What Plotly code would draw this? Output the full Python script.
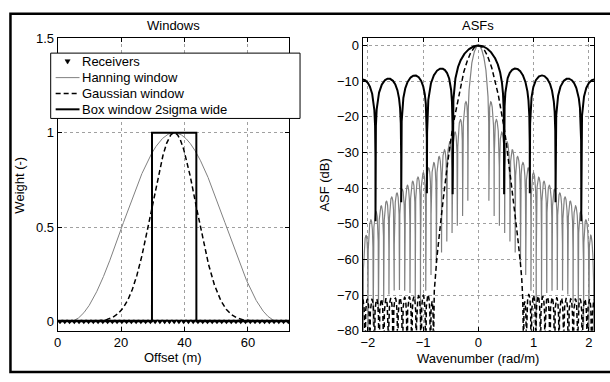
import numpy as np
import plotly.graph_objects as go

# ---------------- data / parameters ----------------
receiver_spacing_m = 1.5
receiver_offsets_m = 0.75 + receiver_spacing_m * np.arange(49)   # 0.75 ... 72.75 m
window_center_m = 36.75
gauss_sigma_m = 7.0
hanning_length_m = 66.0                          # zeros at 3.75 m and 69.75 m
box_halfwidth_m = gauss_sigma_m                  # box window 2 sigma wide

legend_names = ["Receivers", "Hanning window", "Gaussian window", "Box window 2sigma wide"]
left_xticks = [0, 20, 40, 60]
left_yticks = [0, 0.5, 1, 1.5]
left_yticklabels = ["0", "0.5", "1", "1.5"]
right_xticks = [-2, -1, 0, 1, 2]
right_yticks = [0, -10, -20, -30, -40, -50, -60, -70, -80]
k_nyquist = np.pi / receiver_spacing_m
n_wavenumbers = 30005

W, H = 610, 382
FONT = "Liberation Sans, Arial, Helvetica, sans-serif"
GRAY = "rgb(128,128,128)"
DASH = "5px,3px"


def hanning(x):
    u = (x - window_center_m) / hanning_length_m
    return np.where(np.abs(u) < 0.5, np.cos(np.pi * u) ** 2, 0.0)


def gaussian(x):
    return np.exp(-((x - window_center_m) ** 2) / (2 * gauss_sigma_m ** 2))


def box(x):
    return np.where(np.abs(x - window_center_m) <= box_halfwidth_m + 1e-9, 1.0, 0.0)


# fine offset grid for drawing the windows
xf = np.linspace(0.0, 73.0, 6001)

# array sensitivity functions (ASF) from the receiver weights
k = np.linspace(-k_nyquist, k_nyquist, n_wavenumbers)


def asf_db(weights):
    ph = np.exp(-1j * np.outer(k, receiver_offsets_m))
    a = np.abs(ph @ weights) / np.sum(weights)
    return 10 * np.log10(a + 1e-20)


asf_hann = asf_db(hanning(receiver_offsets_m))
asf_gauss = asf_db(gaussian(receiver_offsets_m))
asf_box = asf_db(box(receiver_offsets_m))

fig = go.Figure()

# ---------------- left panel ----------------
fig.add_trace(go.Scatter(x=xf, y=hanning(xf), mode="lines", line=dict(color=GRAY, width=1),
                         name=legend_names[1], xaxis="x", yaxis="y"))
fig.add_trace(go.Scatter(x=xf, y=gaussian(xf), mode="lines",
                         line=dict(color="black", width=1.5, dash=DASH),
                         name=legend_names[2], xaxis="x", yaxis="y"))
fig.add_trace(go.Scatter(x=xf, y=box(xf), mode="lines", line=dict(color="black", width=2),
                         name=legend_names[3], xaxis="x", yaxis="y"))
fig.add_trace(go.Scatter(x=receiver_offsets_m, y=np.zeros_like(receiver_offsets_m), mode="markers",
                         marker=dict(symbol="triangle-down", size=6, color="black", line=dict(width=0)),
                         name=legend_names[0], xaxis="x", yaxis="y"))

# ---------------- right panel ----------------
fig.add_trace(go.Scatter(x=k, y=asf_hann, mode="lines", line=dict(color=GRAY, width=1.2),
                         xaxis="x2", yaxis="y2"))
fig.add_trace(go.Scatter(x=k, y=asf_gauss, mode="lines",
                         line=dict(color="black", width=1.5, dash=DASH),
                         xaxis="x2", yaxis="y2"))
fig.add_trace(go.Scatter(x=k, y=asf_box, mode="lines", line=dict(color="black", width=2),
                         xaxis="x2", yaxis="y2"))

ydom = [1 - 337 / H, 1 - 32.7 / H]
axis_common = dict(showline=True, linecolor="black", linewidth=1, mirror="ticks",
                   ticks="inside", ticklen=4, tickcolor="black", zeroline=False,
                   showgrid=True, gridcolor="rgb(160,160,160)", griddash="dot", gridwidth=1,
                   tickfont=dict(family=FONT, size=13, color="black"))

fig.update_layout(
    width=W, height=H,
    margin=dict(l=0, r=0, t=0, b=0),
    paper_bgcolor="white", plot_bgcolor="white",
    font=dict(family=FONT, size=13, color="black"),
    showlegend=False,
    xaxis=dict(domain=[54 / W, 287 / W], range=[0, 73], tickvals=left_xticks, anchor="y", **axis_common),
    yaxis=dict(domain=ydom, range=[-0.05, 1.5], tickvals=left_yticks, ticktext=left_yticklabels,
               anchor="x", **axis_common),
    xaxis2=dict(domain=[361 / W, 594 / W], range=[-k_nyquist, k_nyquist], tickvals=right_xticks,
                anchor="y2", **axis_common),
    yaxis2=dict(domain=ydom, range=[-80, 2], tickvals=right_yticks, anchor="x2", **axis_common),
)


def px(x):
    return x / W


def py(y):
    return 1 - y / H


# ---------------- legend (drawn box, samples and real text) ----------------
fig.add_shape(type="rect", xref="paper", yref="paper",
              x0=px(47), x1=px(298), y0=py(116), y1=py(48),
              line=dict(color="black", width=1), fillcolor="white", layer="above")
rows_y = [57, 73.5, 90, 106.5]
sample_x0, sample_x1, text_x = 52, 76, 77
# receivers marker sample (downward triangle)
mx, my = (sample_x0 + sample_x1) / 2, rows_y[0]
fig.add_shape(type="path", xref="paper", yref="paper",
              path=f"M {px(mx - 2.6)} {py(my - 2.2)} L {px(mx + 2.6)} {py(my - 2.2)} "
                   f"L {px(mx)} {py(my + 2.4)} Z",
              fillcolor="black", line=dict(color="black", width=0.5), layer="above")
sample_styles = [dict(color=GRAY, width=1), dict(color="black", width=1.5, dash=DASH),
                 dict(color="black", width=2)]
for yy, st in zip(rows_y[1:], sample_styles):
    fig.add_shape(type="line", xref="paper", yref="paper",
                  x0=px(sample_x0), x1=px(sample_x1), y0=py(yy), y1=py(yy),
                  line=st, layer="above")
for yy, name in zip(rows_y, legend_names):
    fig.add_annotation(text=name, xref="paper", yref="paper", x=px(text_x), y=py(yy),
                       xanchor="left", yanchor="middle", showarrow=False,
                       font=dict(family=FONT, size=13, color="black"))

# outer figure frame
fig.add_shape(type="rect", xref="paper", yref="paper",
              x0=px(6.5), x1=1.02, y0=py(380), y1=py(7),
              line=dict(color="black", width=2.5), fillcolor="rgba(0,0,0,0)", layer="above")

ann = dict(xref="paper", yref="paper", showarrow=False, font=dict(family=FONT, size=13, color="black"))
fig.add_annotation(text="Windows", x=px(170.5), y=py(19), xanchor="center", yanchor="middle", **ann)
fig.add_annotation(text="ASFs", x=px(477.5), y=py(19), xanchor="center", yanchor="middle", **ann)
fig.add_annotation(text="Offset (m)", x=px(170.5), y=py(365), xanchor="center", yanchor="middle", **ann)
fig.add_annotation(text="Wavenumber (rad/m)", x=px(477.5), y=py(366), xanchor="center",
                   yanchor="middle", **ann)
fig.add_annotation(text="Weight (-)", x=px(16), y=py(185), xanchor="center", yanchor="middle",
                   textangle=-90, **ann)
fig.add_annotation(text="ASF (dB)", x=px(323), y=py(185), xanchor="center", yanchor="middle",
                   textangle=-90, **ann)

fig.write_html("out.html")
